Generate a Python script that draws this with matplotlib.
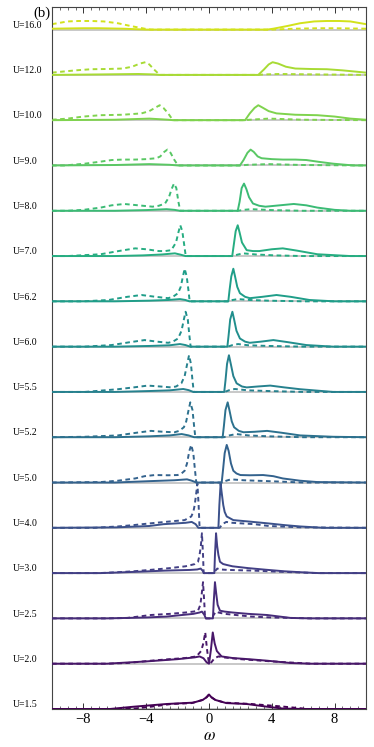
import numpy as np
import matplotlib
matplotlib.use('Agg')
import matplotlib.pyplot as plt
import matplotlib.transforms as mtransforms
from matplotlib.ticker import MultipleLocator

plt.rcParams['font.family'] = ['Liberation Serif', 'DejaVu Serif']
plt.rcParams['mathtext.fontset'] = 'stix'

# U values, bottom to top
U_vals = [1.5, 2.0, 2.5, 3.0, 4.0, 5.0, 5.2, 5.5, 6.0, 6.2, 7.0, 8.0, 9.0, 10.0, 12.0, 16.0]

# spin-up spectral function (solid): frequency / height
w_u15 = [-10, -6.3, -4.8, -2.7, -1.0, -0.4, -0.15, 0, 0.15, 0.4, 1.1, 2.4, 3.7, 4.7, 6.0, 10]
a_u15 = [0, 0, 0.05, 0.11, 0.14, 0.2, 0.26, 0.32, 0.26, 0.2, 0.13, 0.11, 0.05, 0.01, 0, 0]

w_u20 = [-10, -6.5, -4, -2, -0.9, -0.6, -0.35, -0.15, 0, 0.12, 0.24, 0.36, 0.5, 0.8, 1.5, 2.5, 3.7, 5.2, 6.5, 10]
a_u20 = [0, 0, 0.05, 0.1, 0.14, 0.16, 0.12, 0.03, 0, 0.3, 0.69, 0.45, 0.28, 0.16, 0.125, 0.1, 0.066, 0.015, 0, 0]

w_u25 = [-10, -6.5, -4, -2.7, -1.0, -0.6, -0.45, -0.3, -0.2, 0.25, 0.3, 0.38, 0.46, 0.55, 0.7, 1.0, 1.5, 2.5, 3.7, 5.2, 6.5, 10]
a_u25 = [0, 0, 0.02, 0.04, 0.1, 0.13, 0.15, 0.08, 0, 0, 0.35, 0.8, 0.55, 0.3, 0.17, 0.15, 0.13, 0.1, 0.075, 0.01, 0, 0]

w_u30 = [-10, -6.9, -4.5, -2.8, -1.2, -0.75, -0.53, -0.4, -0.32, 0.34, 0.38, 0.45, 0.52, 0.6, 0.7, 0.9, 1.13, 1.5, 2.5, 3.6, 4.8, 5.8, 7, 10]
a_u30 = [0, 0, 0.03, 0.055, 0.07, 0.08, 0.1, 0.05, 0, 0, 0.4, 0.88, 0.6, 0.4, 0.25, 0.2, 0.18, 0.15, 0.11, 0.075, 0.04, 0.02, 0, 0]

w_u40 = [-10, -5.9, -3.8, -2.9, -1.5, -1.1, -0.85, -0.68, 0.6, 0.66, 0.74, 0.8, 0.91, 1.0, 1.13, 1.55, 2.5, 3.7, 4.8, 5.8, 7.3, 10]
a_u40 = [0, 0.01, 0.04, 0.08, 0.11, 0.13, 0.08, 0, 0, 0.5, 0.98, 0.8, 0.5, 0.35, 0.25, 0.17, 0.14, 0.1, 0.06, 0.03, 0, 0]

w_u50 = [-10, -6, -3.8, -2.2, -1.4, -1.1, -0.8, 0.81, 0.9, 1.0, 1.13, 1.25, 1.4, 1.55, 1.75, 2.0, 2.6, 3.45, 4.1, 4.7, 5.8, 6.9, 10]
a_u50 = [0, 0, 0.03, 0.05, 0.07, 0.04, 0, 0, 0.3, 0.65, 0.83, 0.7, 0.42, 0.26, 0.2, 0.165, 0.16, 0.165, 0.14, 0.09, 0.04, 0.01, 0]

w_u52 = [-10, -6, -3.8, -2.5, -1.74, -1.3, -0.95, 0.87, 0.95, 1.05, 1.19, 1.3, 1.45, 1.6, 1.9, 2.2, 2.9, 3.7, 4.6, 5.8, 7.9, 10]
a_u52 = [0, 0, 0.02, 0.04, 0.07, 0.04, 0, 0, 0.25, 0.6, 0.77, 0.6, 0.35, 0.22, 0.14, 0.11, 0.12, 0.14, 0.1, 0.04, 0.01, 0]

w_u55 = [-10, -6, -3.8, -2.5, -1.64, -1.3, -1.0, 0.97, 1.05, 1.15, 1.27, 1.4, 1.55, 1.76, 2.1, 2.4, 3.1, 3.9, 4.8, 5.8, 7.9, 10]
a_u55 = [0, 0, 0.02, 0.035, 0.065, 0.04, 0, 0, 0.25, 0.62, 0.81, 0.6, 0.35, 0.19, 0.12, 0.1, 0.12, 0.14, 0.1, 0.06, 0, 0]

w_u60 = [-10, -6, -3.8, -2.5, -1.85, -1.5, -1.2, 1.17, 1.25, 1.35, 1.49, 1.6, 1.75, 1.97, 2.3, 2.6, 3.3, 4.1, 5.0, 6.2, 7.9, 10]
a_u60 = [0, 0, 0.015, 0.03, 0.057, 0.035, 0, 0, 0.25, 0.6, 0.77, 0.6, 0.35, 0.18, 0.11, 0.085, 0.11, 0.145, 0.1, 0.035, 0, 0]

w_u62 = [-10, -6, -3.8, -2.6, -1.85, -1.5, -1.25, 1.23, 1.31, 1.42, 1.55, 1.66, 1.8, 1.97, 2.3, 2.6, 3.4, 4.3, 5.2, 6.4, 8, 10]
a_u62 = [0, 0, 0.015, 0.03, 0.05, 0.03, 0, 0, 0.25, 0.55, 0.72, 0.55, 0.32, 0.18, 0.1, 0.07, 0.1, 0.14, 0.1, 0.03, 0, 0]

w_u70 = [-10, -6, -4.2, -3, -2.17, -1.8, -1.5, 1.48, 1.58, 1.7, 1.83, 1.95, 2.1, 2.4, 2.8, 3.2, 4.0, 4.7, 5.6, 6.9, 9, 10]
a_u70 = [0, 0, 0.015, 0.035, 0.06, 0.03, 0, 0, 0.25, 0.55, 0.68, 0.52, 0.3, 0.13, 0.11, 0.11, 0.15, 0.17, 0.12, 0.04, 0, 0]

w_u80 = [-10, -6, -4, -2.7, -2.2, -1.85, 1.83, 1.95, 2.08, 2.23, 2.38, 2.55, 2.8, 3.2, 3.6, 4.5, 5.4, 6.2, 6.9, 8, 9, 10]
a_u80 = [0, 0, 0.015, 0.035, 0.02, 0, 0, 0.2, 0.5, 0.6, 0.48, 0.3, 0.16, 0.11, 0.09, 0.12, 0.15, 0.12, 0.07, 0.02, 0, 0]

w_u90 = [-10, -6, -3.8, -2.5, -1.97, 1.97, 2.2, 2.45, 2.65, 2.85, 3.1, 3.35, 4, 4.7, 5.5, 6.2, 7, 7.9, 9.2, 10]
a_u90 = [0, 0.01, 0.03, 0.015, 0, 0, 0.12, 0.28, 0.35, 0.3, 0.2, 0.16, 0.14, 0.13, 0.13, 0.12, 0.08, 0.04, 0, 0]

w_u100 = [-10, -6, -3.8, -2.6, -2.3, 2.3, 2.6, 2.9, 3.14, 3.4, 3.8, 4.3, 5.5, 6.9, 8, 9, 10]
a_u100 = [0, 0.01, 0.035, 0.01, 0, 0, 0.15, 0.27, 0.33, 0.28, 0.2, 0.15, 0.12, 0.11, 0.08, 0.035, 0.01]

w_u120 = [-10, -7, -4.5, -3.5, -3.14, 3.14, 3.5, 3.8, 4.05, 4.4, 4.9, 5.5, 6.5, 7.5, 8.5, 10]
a_u120 = [0, 0.01, 0.02, 0.01, 0, 0, 0.12, 0.23, 0.28, 0.25, 0.18, 0.14, 0.13, 0.125, 0.1, 0.05]

w_u160 = [-10, -8, -7, -5.5, -4, 3.7, 4.1, 5.0, 5.8, 6.7, 7.5, 8.3, 9, 10]
a_u160 = [0.02, 0.03, 0.03, 0.02, 0, 0, 0.02, 0.08, 0.14, 0.18, 0.19, 0.19, 0.18, 0.12]

curves = [(w_u15, a_u15), (w_u20, a_u20), (w_u25, a_u25), (w_u30, a_u30),
          (w_u40, a_u40), (w_u50, a_u50), (w_u52, a_u52), (w_u55, a_u55),
          (w_u60, a_u60), (w_u62, a_u62), (w_u70, a_u70), (w_u80, a_u80),
          (w_u90, a_u90), (w_u100, a_u100), (w_u120, a_u120), (w_u160, a_u160)]

colors = plt.cm.viridis(np.linspace(0, 0.93, len(U_vals)))

fig = plt.figure(figsize=(3.74, 7.47), dpi=100)
ax = fig.add_axes([0.139, 0.0509, 0.8396, 0.9398])

trans = mtransforms.blended_transform_factory(ax.transAxes, ax.transData)

for i, (u, (w, a)) in enumerate(zip(U_vals, curves)):
    w = np.array(w, dtype=float)
    a = np.array(a, dtype=float)
    ax.axhline(i, color='#c8c8c8', lw=1.4, zorder=1)
    # spin down = mirror image of spin up
    ax.plot(-w[::-1], a[::-1] + i, color=colors[i], lw=1.4,
            linestyle=(0, (2.4, 1.8)), zorder=2)
    ax.plot(w, a + i, color=colors[i], lw=1.4, zorder=3)
    ax.text(-0.126, i + 0.04, f'U={u:.1f}', transform=trans,
            ha='left', va='baseline', fontsize=7)

ax.set_xlim(-10, 10)
ax.set_ylim(0, 15.5)
ax.set_xticks([-8, -4, 0, 4, 8])
ax.xaxis.set_minor_locator(MultipleLocator(0.5))
ax.set_yticks([])
ax.tick_params(axis='x', which='both', direction='in', top=True, bottom=True,
               labelsize=10.5, colors='#333333', labelcolor='black')
ax.tick_params(axis='x', which='major', length=4, width=0.7, pad=3)
ax.tick_params(axis='x', which='minor', length=2, width=0.5)
for sp in ax.spines.values():
    sp.set_color('#444444')
    sp.set_linewidth(0.8)

ax.set_xlabel(r'$\omega$', fontsize=12, labelpad=1.5)

fig.text(50 / 374, 1 - 13.5 / 747, '(b)', ha='right', va='center', fontsize=10.5)

fig.savefig('out.png', dpi=100)
